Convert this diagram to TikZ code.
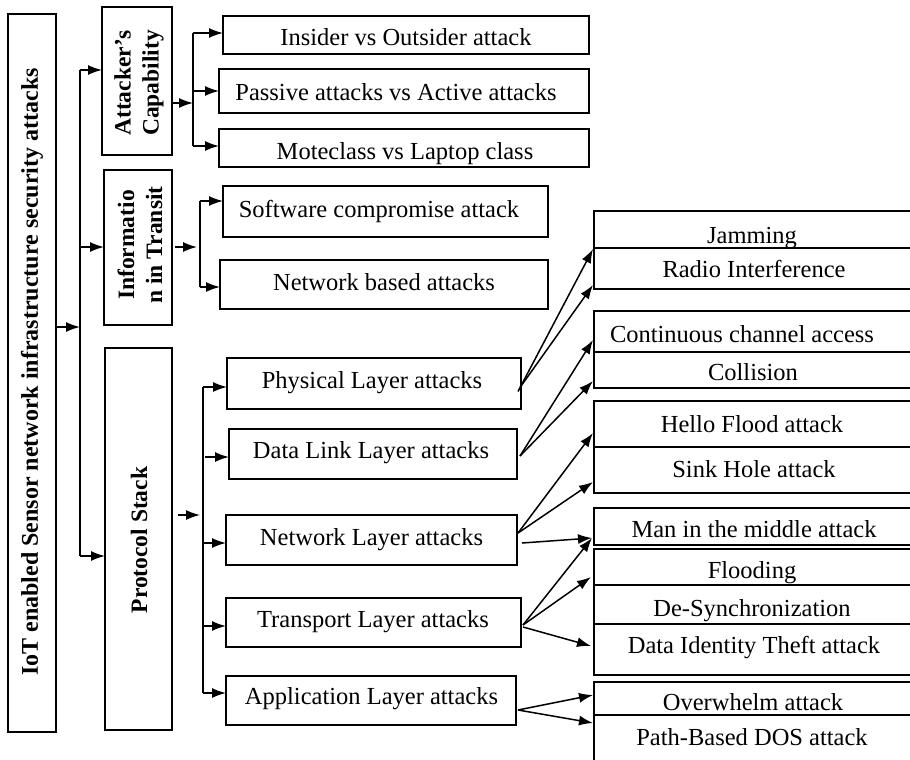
\documentclass[tikz,border=0pt]{standalone}
\usepackage{fontspec}
\setmainfont{Liberation Serif}
\usetikzlibrary{arrows.meta,calc}
\begin{document}
\begin{tikzpicture}[x=1pt,y=-1pt,
  bx/.style={draw, line width=1.6pt, inner sep=0pt, outer sep=0pt},
  txt/.style={font=\fontsize{24.5}{28}\selectfont, inner sep=0pt, anchor=base},
  vt/.style={font=\fontsize{23.5}{28}\bfseries\selectfont, rotate=90, align=center, inner sep=0pt},
  arr/.style={line width=1.5pt, -{Latex[length=14pt,width=10pt]}},
  ln/.style={line width=1.5pt}]
\useasboundingbox (0,0) rectangle (910,760);

% ---------- left column boxes ----------
\node[bx, minimum width=48pt, minimum height=718pt] (main) at (32,373) {};
\node[vt, font=\fontsize{24}{28}\bfseries\selectfont] at (32,372) {IoT enabled Sensor network infrastructure security attacks};

\node[bx, minimum width=70pt, minimum height=148pt] (att) at (137,81) {};
\node[vt] at (139,83) {Attacker’s\\Capability};

\node[bx, minimum width=68pt, minimum height=155pt] (inf) at (138,247.5) {};
\node[vt] at (140,245) {Informatio\\n in Transit};

\node[bx, minimum width=67pt, minimum height=382pt] (ps) at (138.5,539) {};
\node[vt] at (139,540) {Protocol Stack};

% ---------- second level ----------
\node[bx, minimum width=366pt, minimum height=38pt] (ins) at (406,35) {};
\node[txt] at (406,46) {Insider vs Outsider attack};
\node[bx, minimum width=370pt, minimum height=44pt] (pas) at (404,91) {};
\node[txt] at (396,100) {Passive attacks vs Active attacks};
\node[bx, minimum width=370pt, minimum height=38pt] (mot) at (404,148) {};
\begin{scope}
\clip (mot.north west) rectangle (mot.south east);
\node[txt] at (405,159) {Moteclass vs Laptop class};
\end{scope}

\node[bx, minimum width=325pt, minimum height=51pt] (sw) at (385.5,211.5) {};
\node[txt] at (379,217) {Software compromise attack};
\node[bx, minimum width=328pt, minimum height=49pt] (nb) at (384,284.5) {};
\node[txt] at (384,290) {Network based attacks};

\node[bx, minimum width=294pt, minimum height=51pt] (phy) at (374,383.5) {};
\node[txt] at (372,388) {Physical Layer attacks};
\node[bx, minimum width=288pt, minimum height=50pt] (dl) at (373,454) {};
\node[txt] at (371,458) {Data Link Layer attacks};
\node[bx, minimum width=291pt, minimum height=50pt] (net) at (371.5,540) {};
\node[txt] at (371.5,545) {Network Layer attacks};
\node[bx, minimum width=295pt, minimum height=49pt] (tr) at (373.5,622.5) {};
\node[txt] at (373,627) {Transport Layer attacks};
\node[bx, minimum width=290pt, minimum height=49pt] (app) at (371,700.5) {};
\node[txt] at (371.5,704) {Application Layer attacks};

% ---------- right column cells ----------
\node[bx, minimum width=320pt, minimum height=37pt] (jam) at (754,229.5) {};
\begin{scope}
\clip (jam.north west) rectangle (jam.south east);
\node[txt] at (752,243) {Jamming};
\end{scope}
\node[bx, minimum width=320pt, minimum height=41pt] (rad) at (754,268.5) {};
\node[txt] at (754,277) {Radio Interference};

\node[bx, minimum width=320pt, minimum height=41pt] (con) at (754,331.5) {};
\node[txt] at (742,342) {Continuous channel access};
\node[bx, minimum width=320pt, minimum height=36pt] (col) at (754,370) {};
\node[txt] at (753,380) {Collision};

\node[bx, minimum width=320pt, minimum height=46pt] (hel) at (754,424) {};
\node[txt] at (752,432) {Hello Flood attack};
\node[bx, minimum width=320pt, minimum height=46pt] (sink) at (754,470) {};
\node[txt] at (754,477) {Sink Hole attack};

\node[bx, minimum width=320pt, minimum height=37pt] (mim) at (754,526.5) {};
\node[txt] at (754,537) {Man in the middle attack};

\node[bx, minimum width=320pt, minimum height=36pt] (flo) at (754,567) {};
\node[txt] at (752,578) {Flooding};
\node[bx, minimum width=320pt, minimum height=39pt] (des) at (754,604.5) {};
\node[txt] at (752,616) {De-Synchronization};
\node[bx, minimum width=320pt, minimum height=51pt] (dit) at (754,649.5) {};
\node[txt] at (754,653) {Data Identity Theft attack};

\node[bx, minimum width=320pt, minimum height=33pt] (ovw) at (754,698.5) {};
\node[txt] at (753,710) {Overwhelm attack};
\node[bx, minimum width=320pt, minimum height=60pt] (pbd) at (754,745) {};
\node[txt] at (752,745) {Path-Based DOS attack};

% ---------- trunk from main ----------
\coordinate (t0) at (80,327);
\coordinate (ttop) at (80,70);
\coordinate (tbot) at (80,556);
\draw[ln] (ttop) -- (tbot);
\draw[arr] (main.east |- t0) -- (t0);
\draw[arr] (ttop) -- (att.west |- ttop);
\draw[arr] (80,247) -- (inf.west |- 0,247);
\draw[arr] (tbot) -- (ps.west |- tbot);

% ---------- attacker branch ----------
\coordinate (a0) at (193,103);
\coordinate (atop) at (193,33);
\coordinate (abot) at (193,146);
\draw[ln] (atop) -- (abot);
\draw[arr] (att.east |- a0) -- (a0);
\draw[arr] (atop) -- (ins.west |- atop);
\draw[arr] (193,91) -- (pas.west |- 0,91);
\draw[arr] (abot) -- (mot.west |- abot);

% ---------- information branch ----------
\coordinate (i0) at (197,247);
\coordinate (itop) at (200,201);
\coordinate (ibot) at (200,287);
\draw[ln] (itop) -- (ibot);
\draw[arr] ($(inf.east |- i0)+(3,0)$) -- (i0);
\draw[arr] (itop) -- (sw.west |- itop);
\draw[arr] (ibot) -- (nb.west |- ibot);

% ---------- protocol branch ----------
\coordinate (p0) at (200,515);
\coordinate (ptop) at (203,387);
\coordinate (pbot) at (203,693);
\draw[ln] (ptop) -- (pbot);
\draw[arr] ($(ps.east |- p0)+(6,0)$) -- (p0);
\draw[arr] (ptop) -- (phy.west |- ptop);
\draw[arr] (205,457) -- (dl.west |- 0,457);
\draw[arr] (204,543) -- (net.west |- 0,543);
\draw[arr] (203,626) -- (tr.west |- 0,626);
\draw[arr] (pbot) -- (app.west |- pbot);

% ---------- layer -> attack arrows ----------
\coordinate (ejam) at (593,249);
\coordinate (erad) at (593,285);
\coordinate (econ) at (593,340);
\coordinate (ecol) at (593,381);
\coordinate (ehel) at (593,433);
\coordinate (esink) at (593,482);
\coordinate (emim) at (592,538);
\coordinate (eflo) at (591,577);
\coordinate (edit) at (591,646);
\coordinate (eovw) at (593,695);
\coordinate (epbd) at (593,723);

\draw[arr] ($(phy.east)+(-3,8)$) -- (ejam);
\draw[arr] ($(phy.east)+(-1,4)$) -- (erad);
\draw[arr] ($(dl.east)+(3,2)$) -- (econ);
\draw[arr] ($(dl.east)+(3,2)$) -- (ecol);
\draw[arr] ($(net.east)+(1,-7)$) -- (ehel);
\draw[arr] ($(net.east)+(1,-7)$) -- (esink);
\draw[arr] ($(net.east)+(5,3)$) -- (emim);
\draw[arr] ($(tr.east)+(2,2.5)$) -- (emim);
\draw[arr] ($(tr.east)+(2,2.5)$) -- (eflo);
\draw[arr] ($(tr.east)+(2,4.5)$) -- (edit);
\draw[arr] ($(app.east)+(2,9.5)$) -- (eovw);
\draw[arr] ($(app.east)+(2,9.5)$) -- (epbd);
\end{tikzpicture}
\end{document}
